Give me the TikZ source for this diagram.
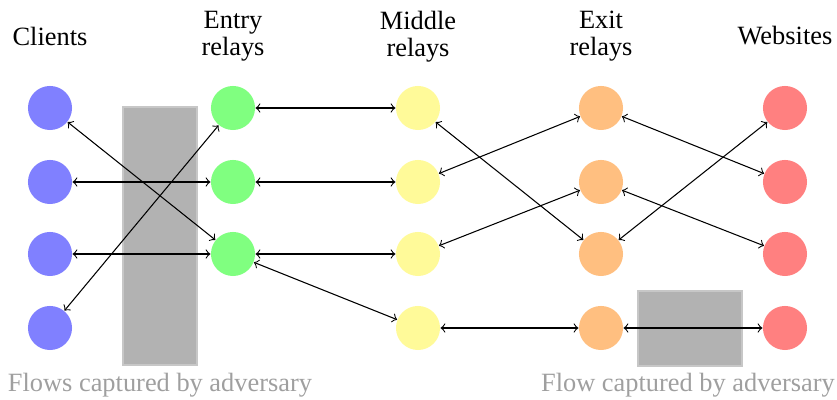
\documentclass[tikz,border=0pt]{standalone}
\usepackage{fontspec}
\setmainfont{Liberation Serif}
\usepackage{tikz}
\usetikzlibrary{calc,positioning,arrows}

\begin{document}
\begin{tikzpicture}[x=0.379pt,y=-0.379pt]
\tikzstyle{relay}=[circle, inner sep=0pt, minimum size=16.7pt]%, draw]
\tikzstyle{flow}=[<->, black, thin]
\tikzstyle{capture}=[fill=black!30, draw=black!22]
\tikzstyle{caption}=[text=gray!75, inner sep=0pt]
\tikzstyle{heading}=[align=center, inner sep=0pt, execute at begin node={\baselineskip=10.2pt}]
\useasboundingbox (0,0) rectangle (837,400);

% adversary boxes
\fill[capture] (123,107) rectangle (197,365);
\fill[capture] (638,291) rectangle (742,366);

% column headings
\node[heading] (hc) at (50,36) {Clients};
\node[heading] (he) at (233,36.5) {Entry\\relays};
\node[heading] (hm) at (418,36.5) {Middle\\relays};
\node[heading] (hx) at (601,36.5) {Exit\\relays};
\node[heading] (hw) at (785,36) {Websites};

% clients
\node[relay, fill=blue!50] (c1) at (50,108) {};
\node[relay, fill=blue!50] (c2) at (50,182) {};
\node[relay, fill=blue!50] (c3) at (50,254) {};
\node[relay, fill=blue!50] (c4) at (50,328) {};
% entry relays
\node[relay, fill=green!50] (e1) at (233,108) {};
\node[relay, fill=green!50] (e2) at (233,182) {};
\node[relay, fill=green!50] (e3) at (233,254) {};
% middle relays
\node[relay, fill=yellow!40] (m1) at (418,108) {};
\node[relay, fill=yellow!40] (m2) at (418,182) {};
\node[relay, fill=yellow!40] (m3) at (418,254) {};
\node[relay, fill=yellow!40] (m4) at (418,328) {};
% exit relays
\node[relay, fill=orange!50] (x1) at (601,108) {};
\node[relay, fill=orange!50] (x2) at (601,182) {};
\node[relay, fill=orange!50] (x3) at (601,254) {};
\node[relay, fill=orange!50] (x4) at (601,328) {};
% websites
\node[relay, fill=red!50] (w1) at (785,108) {};
\node[relay, fill=red!50] (w2) at (785,182) {};
\node[relay, fill=red!50] (w3) at (785,254) {};
\node[relay, fill=red!50] (w4) at (785,328) {};

\draw[flow] (c1) -- (e3);
\draw[flow] (c2) -- (e2);
\draw[flow] (c3) -- (e3);
\draw[flow] (c4) -- (e1);
\draw[flow] (e1) -- (m1);
\draw[flow] (e2) -- (m2);
\draw[flow] (e3) -- (m3);
\draw[flow] (e3) -- (m4);
\draw[flow] (m1) -- (x3);
\draw[flow] (m2) -- (x1);
\draw[flow] (m3) -- (x2);
\draw[flow] (m4) -- (x4);
\draw[flow] (x1) -- (w2);
\draw[flow] (x2) -- (w3);
\draw[flow] (x3) -- (w1);
\draw[flow] (x4) -- (w4);

% captions
\node[caption] (cl) at (160,385) {Flows captured by adversary};
\node[caption] (cr) at (688,385) {Flow captured by adversary};
\end{tikzpicture}
\end{document}
